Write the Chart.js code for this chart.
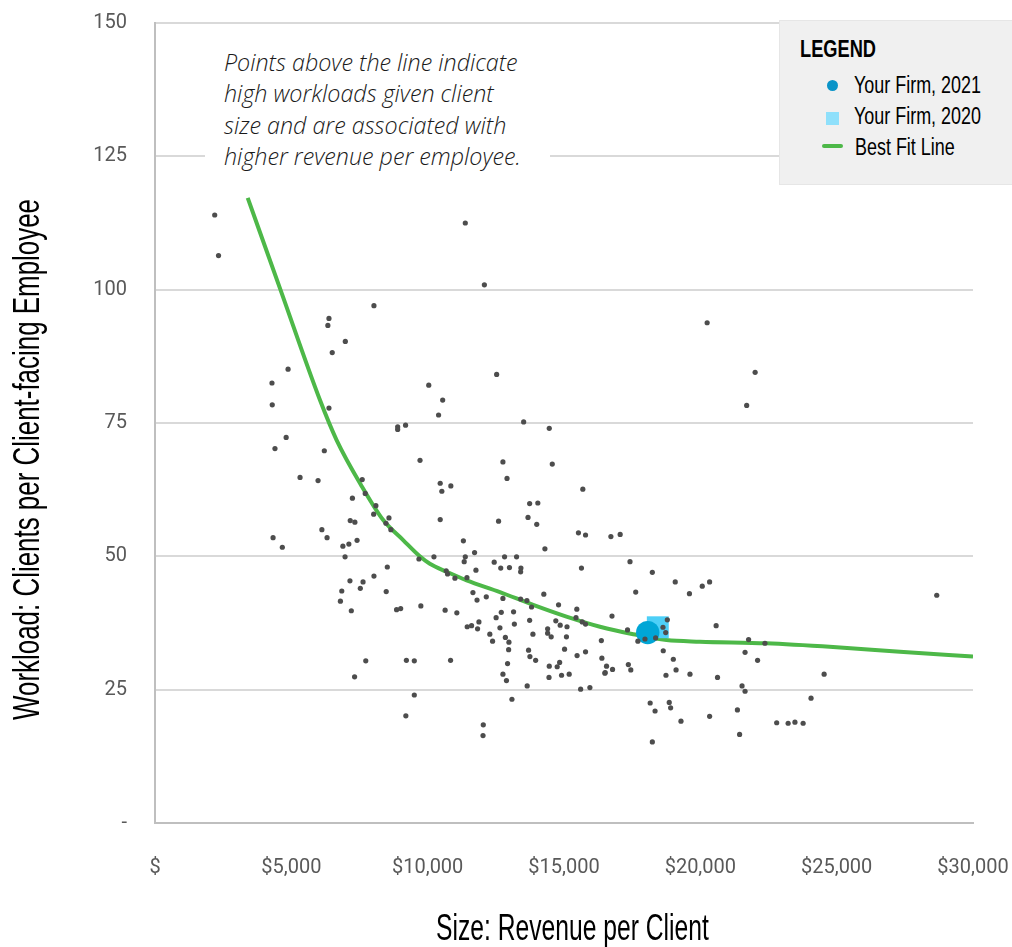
<!DOCTYPE html>
<html>
<head>
<meta charset="utf-8">
<script src="https://cdn.jsdelivr.net/npm/chart.js@4.4.1/dist/chart.umd.min.js"></script>
<style>
  html, body { margin: 0; padding: 0; background: #fff; }
  #wrap { position: relative; width: 1012px; height: 947px; overflow: hidden; }
  #chart { position: absolute; left: 0; top: 0; }
  .cond { font-family: 'Liberation Sans', Arial, sans-serif; }
  .abs { position: absolute; white-space: nowrap; line-height: 1; transform-origin: 0 0; }
  #ytitle { left: 9px; top: 720px; font-size: 36px; color: #000; transform: rotate(-90deg) scaleX(0.72); }
  #xtitle { left: 436px; top: 910px; font-size: 36px; color: #000; transform: scaleX(0.685); }
  #note-bg { position: absolute; left: 205px; top: 40px; width: 345px; height: 135px; background: #fff; }
  #note { position: absolute; left: 224px; top: 47px; font-family: 'Open Sans', sans-serif;
          font-style: italic; font-weight: 300; font-size: 23.3px; line-height: 31.3px; color: #1a1a1a; white-space: nowrap; }
  #legend-box { position: absolute; left: 779px; top: 20px; width: 240px; height: 165px;
                background: #f0f0f0; border: 1px solid #e6e6e6; box-sizing: border-box; }
  .leg-text { font-size: 23px; color: #000; transform: scaleX(0.78); }
  #leg-title { left: 800px; top: 37px; font-size: 24px; font-weight: bold; color: #000; transform: scaleX(0.76); }
</style>
</head>
<body>
<div id="wrap">
  <canvas id="chart" width="1012" height="947"></canvas>
  <div id="note-bg"></div>
  <div id="note">Points above the line indicate<br>high workloads given client<br>size and are associated with<br>higher revenue per employee.</div>
  <div id="legend-box"></div>
  <div id="leg-title" class="abs cond">LEGEND</div>
  <div class="abs" style="left:826.5px;top:79.5px;width:11px;height:11px;border-radius:50%;background:#0a94c8;"></div>
  <div class="abs cond leg-text" style="left:854px;top:73.5px;">Your Firm, 2021</div>
  <div class="abs" style="left:826px;top:112px;width:13px;height:13px;background:#8fe0fb;"></div>
  <div class="abs cond leg-text" style="left:854px;top:104.5px;">Your Firm, 2020</div>
  <div class="abs" style="left:822px;top:144px;width:21px;height:4px;border-radius:2px;background:#4db848;"></div>
  <div class="abs cond leg-text" style="left:855px;top:135.5px;">Best Fit Line</div>
  <div id="ytitle" class="abs cond">Workload: Clients per Client-facing Employee</div>
  <div id="xtitle" class="abs cond">Size: Revenue per Client</div>
</div>
<script>
// Firms: revenue per client ($) and clients per client-facing employee
const revenuePerClient = [
  2190, 2330, 8030, 6380, 6340, 6980, 6500, 4880, 4290, 4300, 6380, 10040, 11380, 12080,
  8900, 8900, 9190, 4810, 4400, 6210, 9720, 5320, 5980, 7600, 7710, 7240, 8100, 8020,
  8580, 7160, 7330, 8470, 8650, 6120, 6310, 4330, 4670, 6890, 7110, 7410, 6970, 9680,
  8520, 8030, 7150, 7630, 7530, 6850, 8480, 6800, 7200, 8860, 9010, 9750, 7730, 9220,
  9510, 7320, 9510, 9200,
  12530, 10550, 10400, 13520, 14460, 12760, 14570,
  10460, 10520, 10850, 12910, 15690, 13740, 14040, 10460, 12600, 13680, 14000, 15530, 15790,
  16720, 17060, 11310, 14300, 10230, 11380, 11720, 11340, 12820, 13260, 12440, 12680, 13000,
  13420, 13410, 15640, 17420, 10680, 10730, 11770, 11000, 11440, 18240, 19080, 19600, 11660,
  11810, 12150, 12760, 13410, 13640, 14260, 17630, 10640, 11070, 12700, 13150, 13810, 14800,
  15470, 12510, 13740, 14700, 15440, 15670, 15790, 16760, 17330, 11450, 11610, 11880, 11830,
  12650, 13180, 14860, 15110, 14400, 14400, 14530, 12280, 13860, 12850, 12980, 12380, 15090,
  16370, 12970, 13700, 13750, 13960, 15020, 15480, 15790, 16390, 16560, 16780, 16510, 16500,
  17360, 17450, 12930, 12760, 12890, 14460, 14750, 14840, 14450, 14910, 15190, 13650, 15610,
  15950, 10840, 13090, 12040, 12030, 18240, 18160, 18340, 18860, 18910, 19290, 18640, 19010,
  19110, 18740, 19620, 17710, 17970, 18360, 18630, 18730, 18790,
  20250, 22010, 21700, 20070, 20340, 28670, 20580, 21770, 22370, 21640, 22100, 20630, 24540,
  21530, 21640, 24060, 20340, 21360, 21440, 22800, 23220, 23470, 23770
];
const clientsPerEmployee = [
  114.0, 106.4, 97.0, 94.6, 93.3, 90.3, 88.2, 85.1, 82.5, 78.4, 77.8, 82.1, 112.5, 100.9,
  74.3, 73.8, 74.6, 72.3, 70.2, 69.8, 68.0, 64.8, 64.2, 64.4, 61.8, 60.9, 59.5, 57.9,
  57.2, 56.7, 56.4, 56.2, 55.0, 55.0, 53.5, 53.5, 51.7, 51.9, 52.3, 53.0, 49.9, 49.5,
  48.0, 46.3, 45.4, 45.2, 44.0, 43.5, 43.4, 41.6, 39.8, 40.0, 40.2, 40.7, 30.4, 30.5,
  30.4, 27.4, 24.0, 20.1,
  84.1, 79.3, 76.5, 75.2, 74.0, 67.7, 67.3,
  63.7, 62.2, 63.2, 64.6, 62.6, 59.9, 60.0, 56.9, 56.6, 57.3, 56.0, 54.4, 54.0,
  53.7, 54.1, 52.9, 51.4, 49.9, 49.9, 50.7, 49.0, 49.9, 49.9, 48.9, 47.8, 47.9,
  47.8, 47.1, 47.8, 49.0, 47.3, 46.7, 47.4, 45.9, 46.0, 47.0, 45.2, 43.0, 43.2,
  41.8, 42.4, 42.1, 42.0, 41.7, 42.9, 43.3, 39.9, 39.4, 39.5, 39.6, 40.5, 40.9,
  40.1, 38.5, 38.0, 37.9, 38.5, 37.7, 37.3, 38.8, 36.2, 36.8, 37.0, 37.7, 36.4,
  36.6, 37.3, 37.1, 36.8, 36.4, 35.6, 34.9, 35.4, 35.4, 34.8, 33.9, 34.1, 34.9,
  34.2, 32.5, 32.4, 31.2, 30.5, 32.6, 31.4, 32.1, 30.9, 29.4, 28.8, 28.2, 28.1,
  29.7, 28.7, 29.9, 27.9, 26.7, 29.4, 29.3, 30.1, 27.3, 27.7, 27.9, 25.7, 25.1,
  25.4, 30.5, 23.2, 18.4, 16.4, 15.2, 22.5, 21.0, 22.6, 21.6, 19.1, 32.3, 30.7,
  28.7, 27.7, 27.9, 34.1, 34.5, 34.7, 36.7, 35.7, 38.1,
  93.8, 84.5, 78.3, 44.4, 45.2, 42.7, 37.0, 34.4, 33.7, 32.0, 30.5, 27.3, 27.9,
  25.7, 24.7, 23.4, 20.0, 21.2, 16.6, 18.8, 18.7, 18.9, 18.7
];

// Best fit curve through the cloud
const fitRevenue  = [3400, 4600, 6050, 6660, 7600, 8370, 9110, 9690, 10080, 10700, 11430, 12650, 13870, 15090, 16320, 17540, 18760, 19980, 22420, 24870, 27320, 30000];
const fitWorkload = [117.2, 100.0, 79.3, 71.8, 63.0, 56.8, 53.0, 50.1, 48.6, 47.1, 45.5, 43.3, 40.9, 38.7, 36.8, 35.4, 34.3, 34.0, 33.7, 33.0, 32.1, 31.2];

// Highlighted firm, two years
const firm2021 = { revenue: 18070, workload: 35.7 };
const firm2020 = { revenue: 18440, workload: 36.7 };

// Axis tick labels
const xTickLabels = ['$', '$5,000', '$10,000', '$15,000', '$20,000', '$25,000', '$30,000'];
const yTickLabels = ['-', '25', '50', '75', '100', '125', '150'];
const X_STEP = 5000, Y_STEP = 25;

const pts = revenuePerClient.map((x, i) => ({ x, y: clientsPerEmployee[i] }));
const fit = fitRevenue.map((x, i) => ({ x, y: fitWorkload[i] }));

const tickFont = "Roboto, 'Liberation Sans', sans-serif";

new Chart(document.getElementById('chart'), {
  type: 'scatter',
  data: {
    datasets: [
      { label: 'Firms', data: pts, order: 0, pointRadius: 2.6, pointBackgroundColor: '#4d4d4d', pointBorderWidth: 0 },
      { label: 'Your Firm, 2021', data: [{ x: firm2021.revenue, y: firm2021.workload }], order: 1,
        pointRadius: 11.7, pointBackgroundColor: '#00a6d6', pointBorderWidth: 0 },
      { label: 'Your Firm, 2020', data: [{ x: firm2020.revenue, y: firm2020.workload }], order: 2,
        pointStyle: 'rect', pointRadius: 15.5, pointBackgroundColor: '#4dcff7', pointBorderWidth: 0 },
      { label: 'Best Fit Line', data: fit, order: 3, showLine: true, pointRadius: 0,
        borderColor: '#4db848', borderWidth: 4, cubicInterpolationMode: 'monotone', fill: false }
    ]
  },
  options: {
    responsive: false,
    animation: false,
    devicePixelRatio: 1,
    layout: { padding: { top: 23, right: 39, left: 0, bottom: 0 } },
    plugins: { legend: { display: false }, tooltip: { enabled: false } },
    scales: {
      x: {
        type: 'linear', min: 0, max: 30000,
        grid: { display: false },
        border: { display: true, color: '#bfbfbf', width: 2 },
        ticks: {
          stepSize: X_STEP, padding: 25, color: '#595959', maxRotation: 0,
          font: { family: tickFont, size: 20 },
          callback: v => xTickLabels[Math.round(v / X_STEP)]
        },
        afterFit: s => { s.height = 124; s.paddingLeft = 0; s.paddingRight = 0; }
      },
      y: {
        type: 'linear', min: 0, max: 150,
        grid: { color: c => (c.tick && c.tick.value === 0) ? 'rgba(0,0,0,0)' : '#d9d9d9', lineWidth: 2, drawTicks: false },
        border: { display: true, color: '#bfbfbf', width: 2 },
        ticks: {
          stepSize: Y_STEP, padding: 28, color: '#595959',
          font: { family: tickFont, size: 20 },
          callback: v => yTickLabels[Math.round(v / Y_STEP)]
        },
        afterFit: s => { s.width = 155; s.paddingTop = 0; s.paddingBottom = 0; }
      }
    }
  }
});
</script>
</body>
</html>
